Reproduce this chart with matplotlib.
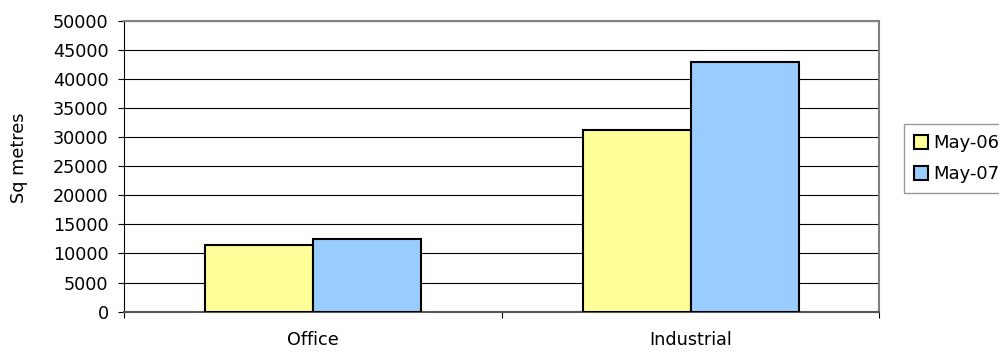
import matplotlib
matplotlib.use("Agg")
import matplotlib.pyplot as plt
import numpy as np

categories = ["Office", "Industrial"]
series_names = ["May-06", "May-07"]
may06 = [11450, 31250]
may07 = [12550, 42900]
yticks = [0, 5000, 10000, 15000, 20000, 25000, 30000, 35000, 40000, 45000, 50000]

plt.rcParams['font.family'] = ['DejaVu Sans']
FS = 12.7

fig = plt.figure(figsize=(9.99, 3.54), dpi=100)
ax = fig.add_axes([0.1244, 0.1195, 0.7558, 0.8225])

x = np.arange(len(categories))
w = 0.286
ax.bar(x - w/2, may06, w, color="#FFFF99", edgecolor="black", linewidth=1.5, label=series_names[0], zorder=3)
ax.bar(x + w/2, may07, w, color="#99CCFF", edgecolor="black", linewidth=1.5, label=series_names[1], zorder=3)

ax.set_xlim(-0.5, 1.5)
ax.set_ylim(0, 50000)
ax.set_yticks(yticks)
ax.set_yticklabels([str(v) for v in yticks], fontsize=FS)
ax.yaxis.grid(True, color="black", linewidth=0.8, zorder=0)
ax.set_axisbelow(True)

ax.set_xticks([-0.5, 0.5, 1.5])
ax.set_xticklabels([])
ax.set_xticks(x, minor=True)
ax.set_xticklabels(categories, minor=True, fontsize=FS)
ax.tick_params(axis='x', which='minor', length=0, pad=14)
ax.tick_params(axis='x', which='major', length=4.3, direction='out', color='black')
ax.tick_params(axis='y', length=4.3, direction='out', color='black', pad=7)

ax.spines['top'].set_color('#808080')
ax.spines['right'].set_color('#808080')
ax.spines['top'].set_linewidth(1.5)
ax.spines['right'].set_linewidth(1.5)
ax.spines['left'].set_color('black')
ax.spines['bottom'].set_color('#555555')
ax.spines['bottom'].set_linewidth(1.5)

fig.text(0.0195, 0.553, "Sq metres", rotation=90, fontsize=FS, ha='center', va='center')

leg = ax.legend(loc='upper left', bbox_to_anchor=(904/999, 1 - 124/354), bbox_transform=fig.transFigure,
                fontsize=13, frameon=True, fancybox=False, edgecolor='#808080',
                handlelength=0.8, handleheight=0.8, handletextpad=0.25, borderpad=0.55,
                labelspacing=0.75, borderaxespad=0)
leg.get_frame().set_linewidth(1.0)

fig.savefig("out.png", dpi=100)
